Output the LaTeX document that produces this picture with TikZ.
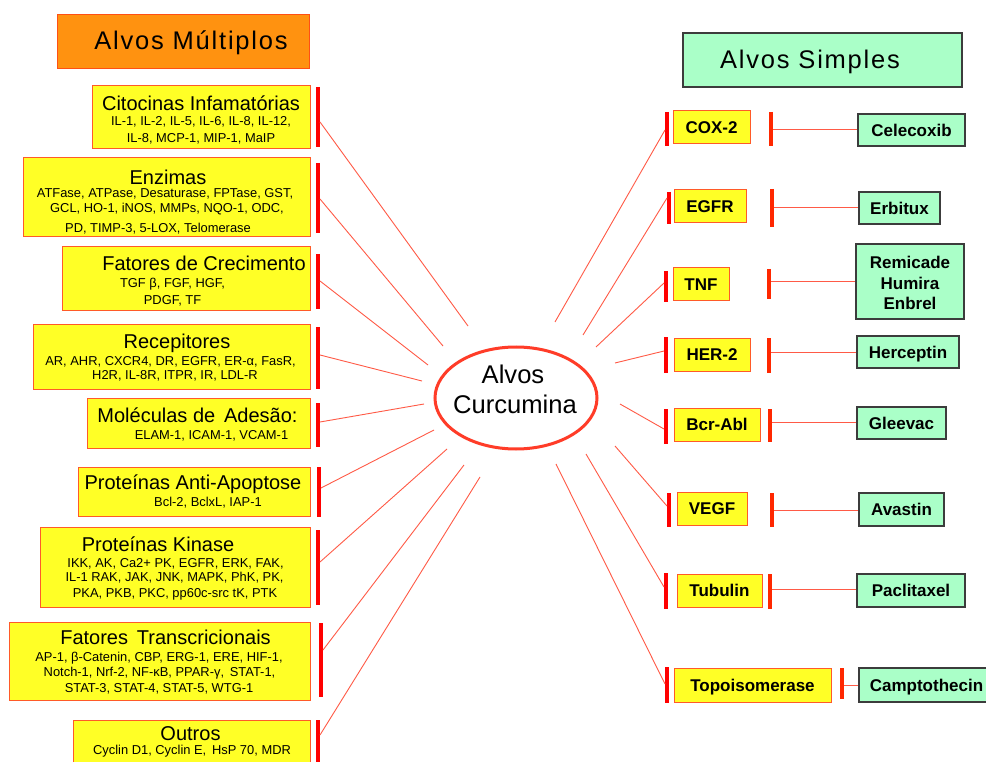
\documentclass[tikz,border=0pt]{standalone}
\usepackage{fontspec}
\setmainfont{Liberation Sans}
\usetikzlibrary{fit,shapes.geometric}
\definecolor{yfill}{RGB}{255,255,38}
\definecolor{yline}{RGB}{255,90,40}
\definecolor{gfill}{RGB}{170,255,200}
\definecolor{gline}{RGB}{60,60,60}
\definecolor{ofill}{RGB}{255,146,16}
\definecolor{oline}{RGB}{255,80,20}
\definecolor{barred}{RGB}{255,0,0}
\definecolor{barred2}{RGB}{255,40,0}
\definecolor{connc}{RGB}{255,90,70}
\definecolor{ellc}{RGB}{255,60,40}
\begin{document}
\begin{tikzpicture}[x=1pt,y=-1pt,
  ybox/.style={draw=yline, fill=yfill, line width=1pt, inner sep=0pt, rectangle},
  gbox/.style={draw=gline, fill=gfill, line width=1.3pt, inner sep=0pt, rectangle},
  obox/.style={draw=oline, fill=ofill, line width=1pt, inner sep=0pt, rectangle},
  bar/.style={draw=barred, line width=4pt},
  rbar/.style={draw=barred2, line width=4pt},
  conn/.style={draw=connc, line width=0.9pt},
  ttl/.style={font=\fontsize{20}{24}\selectfont, inner sep=0pt, text height=14.3pt, text depth=0pt},
  sm/.style={font=\fontsize{12.9}{15}\selectfont, inner sep=0pt, text height=9.3pt, text depth=0pt},
  lbl/.style={font=\bfseries\fontsize{17}{20}\selectfont, inner sep=0pt, text height=12.2pt, text depth=0pt},
  big/.style={font=\fontsize{25.6}{30}\selectfont, inner sep=0pt, anchor=base},
  hdr/.style={inner sep=0pt, text height=18pt, text depth=0pt, font=\fontsize{25.5}{30}\selectfont\addfontfeatures{LetterSpace=7}}
]
\useasboundingbox[fill=white] (0,0) rectangle (986,762);

% headers
\node[obox, fit={(57,15) (309,69)}] (hm) {};
\node[hdr] (hmt) at (191,41) {Alvos Múltiplos};
\node[gbox, fit={(683,33) (962,87)}] (hs) {};
\node[hdr] (hst) at (810,60) {Alvos Simples};

% central ellipse
\node[draw=ellc, line width=3pt, ellipse, minimum width=162pt, minimum height=102pt, inner sep=0pt] (cur) at (516,398) {};
\node[big] (cura) at (513,383) {Alvos};
\node[big] (curb) at (515,413) {Curcumina};

% left boxes
\node[ybox, fit={(92,86) (310,149)}] (L1) {};
\node[ttl] (L1t) at (201,103) {Citocinas Infamatórias};
\node[sm] (L1a) at (201,121) {IL-1, IL-2, IL-5, IL-6, IL-8, IL-12,};
\node[sm] (L1b) at (201,138) {IL-8, MCP-1, MIP-1, MaIP};

\node[ybox, fit={(23,158) (310,237)}] (L2) {};
\node[ttl] (L2t) at (168,177) {Enzimas};
\node[sm] (L2a) at (165,193) {ATFase, ATPase, Desaturase, FPTase, GST,};
\node[sm] (L2b) at (167,208) {GCL, HO-1, iNOS, MMPs, NQO-1, ODC,};
\node[sm] (L2c) at (158,228) {PD, TIMP-3, 5-LOX, Telomerase};

\node[ybox, fit={(62,247) (310,311)}] (L3) {};
\node[ttl] (L3t) at (204,263) {Fatores de Crecimento};
\node[sm] (L3a) at (172.5,283) {TGF β, FGF, HGF,};
\node[sm] (L3b) at (172.5,300) {PDGF, TF};

\node[ybox, fit={(33,325) (310,389)}] (L4) {};
\node[ttl] (L4t) at (177,341) {Recepitores};
\node[sm] (L4a) at (170.5,361) {AR, AHR, CXCR4, DR, EGFR, ER-α, FasR,};
\node[sm] (L4b) at (175,375) {H2R, IL-8R, ITPR, IR, LDL-R};

\node[ybox, fit={(87,398) (310,448)}] (L5) {};
\node[ttl] (L5t) at (197.5,415) {Moléculas de\ \,Adesão:};
\node[sm] (L5a) at (211.5,435) {ELAM-1, ICAM-1, VCAM-1};

\node[ybox, fit={(78,467) (310,516)}] (L6) {};
\node[ttl] (L6t) at (193,482) {Proteínas Anti-Apoptose};
\node[sm] (L6a) at (208,502) {Bcl-2, BclxL, IAP-1};

\node[ybox, fit={(40,527) (310,607)}] (L7) {};
\node[ttl] (L7t) at (158,544) {Proteínas Kinase};
\node[sm] (L7a) at (175.5,563) {IKK, AK, Ca2+ PK, EGFR, ERK, FAK,};
\node[sm] (L7b) at (174.5,577) {IL-1 RAK, JAK, JNK, MAPK, PhK, PK,};
\node[sm] (L7c) at (175,593) {PKA, PKB, PKC, pp60c-src tK, PTK};

\node[ybox, fit={(9,622) (310,700)}] (L8) {};
\node[ttl] (L8t) at (165.5,637) {Fatores\ \,Transcricionais};
\node[sm] (L8a) at (159,657) {AP-1, β-Catenin, CBP, ERG-1, ERE, HIF-1,};
\node[sm] (L8b) at (159.5,672) {Notch-1, Nrf-2, NF-κB, PPAR-γ,\ \,STAT-1,};
\node[sm] (L8c) at (159,688) {STAT-3, STAT-4, STAT-5, WTG-1};

\node[ybox, fit={(73,720) (310,790)}] (L9) {};
\node[ttl] (L9t) at (190.5,733) {Outros};
\node[sm] (L9a) at (192,750) {Cyclin D1, Cyclin E,\ \,HsP 70, MDR};

% left bars
\draw[bar] (318,87) -- (318,147);
\draw[bar] (318,163) -- (318,233);
\draw[bar] (318,254) -- (318,309);
\draw[bar] (318,327) -- (318,389);
\draw[bar] (318,403) -- (318,447);
\draw[bar] (319,467) -- (319,517);
\draw[bar] (318,530) -- (318,605);
\draw[bar] (321,623) -- (321,697);
\draw[bar] (318,720) -- (318,770);

% left connector coordinates
\coordinate (s1) at (320,122); \coordinate (e1) at (468,326);
\coordinate (s2) at (320,199); \coordinate (e2) at (443,346);
\coordinate (s3) at (320,281); \coordinate (e3) at (428,365);
\coordinate (s4) at (320,355); \coordinate (e4) at (422,381);
\coordinate (s5) at (320,422); \coordinate (e5) at (424,404);
\coordinate (s6) at (321,488); \coordinate (e6) at (434,430);
\coordinate (s7) at (320,562); \coordinate (e7) at (447,449);
\coordinate (s8) at (323,650); \coordinate (e8) at (464,465);
\coordinate (s9) at (320,735); \coordinate (e9) at (480,477);
\foreach \i in {1,...,9} {\draw[conn] (s\i) -- (e\i);}

% right target boxes
\node[ybox, fit={(673,111) (750,144)}] (R1) {};
\node[lbl] (R1t) at (R1) {COX-2};
\node[ybox, fit={(674,190) (746,223)}] (R2) {};
\node[lbl] (R2t) at (R2) {EGFR};
\node[ybox, fit={(673,268) (729,301)}] (R3) {};
\node[lbl] (R3t) at (R3) {TNF};
\node[ybox, fit={(674,338) (750,371)}] (R4) {};
\node[lbl] (R4t) at (R4) {HER-2};
\node[ybox, fit={(674,408) (760,441)}] (R5) {};
\node[lbl] (R5t) at (R5) {Bcr-Abl};
\node[ybox, fit={(677,492) (747,525)}] (R6) {};
\node[lbl] (R6t) at (R6) {VEGF};
\node[ybox, fit={(677,574) (762,607)}] (R7) {};
\node[lbl] (R7t) at (R7) {Tubulin};
\node[ybox, fit={(674,668) (831,702)}] (R8) {};
\node[lbl] (R8t) at (R8) {Topoisomerase};

% drug boxes
\node[gbox, fit={(858,114) (965,146)}] (D1) {};
\node[lbl] (D1t) at (D1) {Celecoxib};
\node[gbox, fit={(859,192) (940,224)}] (D2) {};
\node[lbl] (D2t) at (D2) {Erbitux};
\node[gbox, fit={(856,244) (964,319)}] (D3) {};
\node[lbl] (D3a) at (910,262) {Remicade};
\node[lbl] (D3b) at (910,283) {Humira};
\node[lbl] (D3c) at (910,303) {Enbrel};
\node[gbox, fit={(857,336) (959,368)}] (D4) {};
\node[lbl] (D4t) at (D4) {Herceptin};
\node[gbox, fit={(857,407) (946,439)}] (D5) {};
\node[lbl] (D5t) at (D5) {Gleevac};
\node[gbox, fit={(859,493) (944,526)}] (D6) {};
\node[lbl] (D6t) at (D6) {Avastin};
\node[gbox, fit={(857,574) (965,607)}] (D7) {};
\node[lbl] (D7t) at (D7) {Paclitaxel};
\node[gbox, fit={(859,668) (1000,702)}] (D8) {};
\node[lbl] (D8t) at (926.5,685) {Camptothecin};

% right bars (left of targets)
\draw[bar] (667,112) -- (667,146);
\draw[bar] (669,192) -- (669,224);
\draw[bar] (666,271) -- (666,302);
\draw[bar] (666,337) -- (666,373);
\draw[bar] (666,409) -- (666,444);
\draw[bar] (669,493) -- (669,527);
\draw[bar] (666,573) -- (666,609);
\draw[bar] (667,667) -- (667,703);
% right bars (right of targets)
\draw[rbar] (771,112) -- (771,146);
\draw[rbar] (772,189) -- (772,227);
\draw[rbar] (769,269) -- (769,299);
\draw[rbar] (769,338) -- (769,373);
\draw[rbar] (770,409) -- (770,442);
\draw[rbar] (772,493) -- (772,527);
\draw[rbar] (770,574) -- (770,609);
\draw[rbar] (842,668) -- (842,699);

% right connectors to curcumin
\coordinate (t1) at (665,130); \coordinate (f1) at (555,322);
\coordinate (t2) at (667,198); \coordinate (f2) at (583,335);
\coordinate (t3) at (664,283); \coordinate (f3) at (596,347);
\coordinate (t4) at (664,351); \coordinate (f4) at (615,363);
\coordinate (t5) at (664,429); \coordinate (f5) at (620,404);
\coordinate (t6) at (667,506); \coordinate (f6) at (615,446);
\coordinate (t7) at (664,587); \coordinate (f7) at (586,454);
\coordinate (t8) at (665,684); \coordinate (f8) at (556,464);
\foreach \i in {1,...,8} {\draw[conn] (t\i) -- (f\i);}

% right connectors to drugs
\coordinate (r1) at (773,129);
\coordinate (r2) at (774,207);
\coordinate (r3) at (771,281);
\coordinate (r4) at (771,352);
\coordinate (r5) at (772,422);
\coordinate (r6) at (774,510);
\coordinate (r7) at (772,589);
\coordinate (r8) at (844,685);
\foreach \i in {1,...,8} {\draw[conn] (r\i) -- (r\i -| D\i.west);}
\end{tikzpicture}
\end{document}
